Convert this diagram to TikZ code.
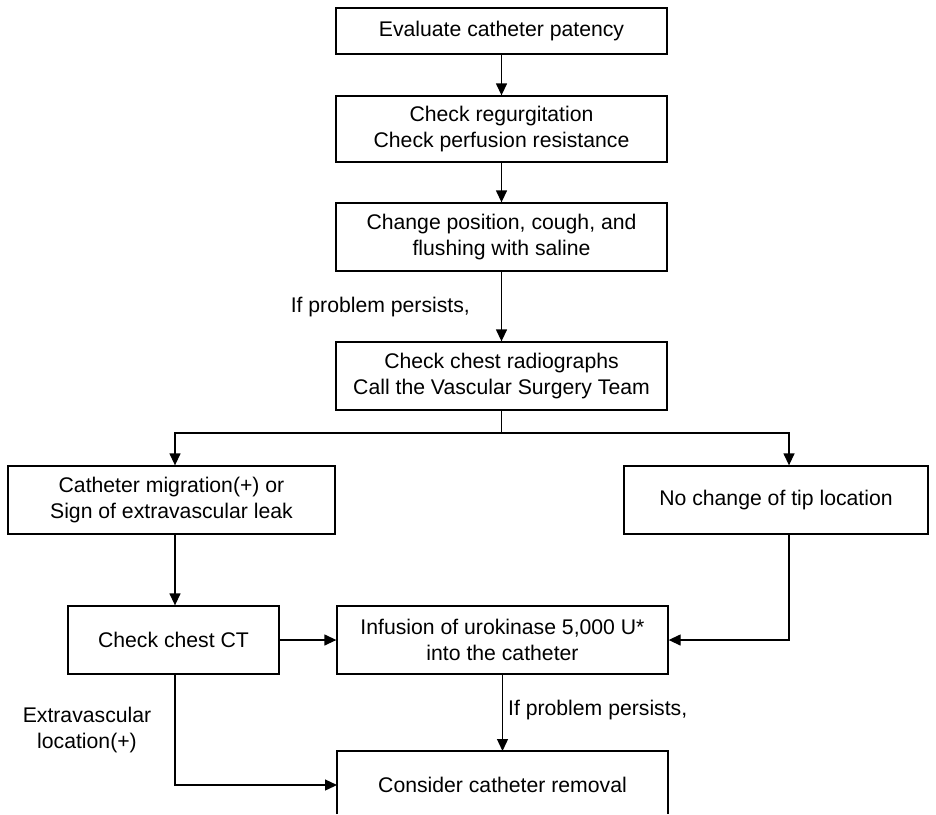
\documentclass[tikz,border=0pt]{standalone}
\usepackage{fontspec}
\setmainfont{Liberation Sans}
\usetikzlibrary{arrows.meta,calc}
\begin{document}
\begin{tikzpicture}[x=1pt,y=-1pt,
  every node/.style={font=\fontsize{21.2}{25.5}\selectfont, align=center, inner sep=0pt},
  box/.style={draw, line width=1.3pt, minimum height=68pt},
  arr/.style={line width=1.3pt, -{Triangle[length=12pt,width=11pt]}},
  ln/.style={line width=1.3pt},
  lbl/.style={font=\fontsize{21.2}{25.5}\selectfont}]
\useasboundingbox (0,0) rectangle (936,814);
\node[box, minimum width=331pt, minimum height=46pt] (b1) at (501.5,31) {Evaluate catheter patency};
\node[box, minimum width=331pt, minimum height=66pt] (b2) at (501.5,129) {Check regurgitation\\Check perfusion resistance};
\node[box, minimum width=331pt] (b3) at (501.5,237) {Change position, cough, and\\flushing with saline};
\node[box, minimum width=331pt] (b4) at (501.5,376) {Check chest radiographs\\Call the Vascular Surgery Team};
\node[box, minimum width=327pt] (lt) at (171.5,500) {Catheter migration(+) or\\Sign of extravascular leak};
\node[box, minimum width=304pt] (rt) at (776,500) {No change of tip location};
\node[box, minimum width=211pt] (ct) at (173.5,640) {Check chest CT};
\node[box, minimum width=331pt] (inf) at (502.5,640) {Infusion of urokinase 5,000 U*\\into the catheter};
\node[minimum width=331pt, minimum height=68pt] (cons) at (502.5,785) {Consider catheter removal};
\draw[ln] (337,814) -- (337,751) -- (668,751) -- (668,814);
\coordinate (split) at (501.5,433);
\draw[arr] (b1) -- (b2);
\draw[arr] (b2) -- (b3);
\draw[arr] (b3) -- node[lbl, left, xshift=-31pt, yshift=-1pt] {If problem persists,} (b4);
\draw[ln] (b4.south) -- (split);
\draw[arr] (split) -| ([xshift=3.5pt]lt.north);
\draw[arr] (split) -| ([xshift=13pt]rt.north);
\draw[arr] ([xshift=3.5pt]lt.south) -- ([xshift=1.5pt]ct.north);
\draw[arr] (ct.east) -- (inf.west);
\draw[arr] ([xshift=13pt]rt.south) |- (inf.east);
\draw[arr] (inf.south) -- node[lbl, right, xshift=5pt, yshift=3pt] {If problem persists,} (inf.south |- 0,751);
\draw[arr] ([xshift=1.5pt]ct.south) |- (337,785);
\node[lbl] (ext) at (87,730) {Extravascular\\location(+)};
\end{tikzpicture}
\end{document}
